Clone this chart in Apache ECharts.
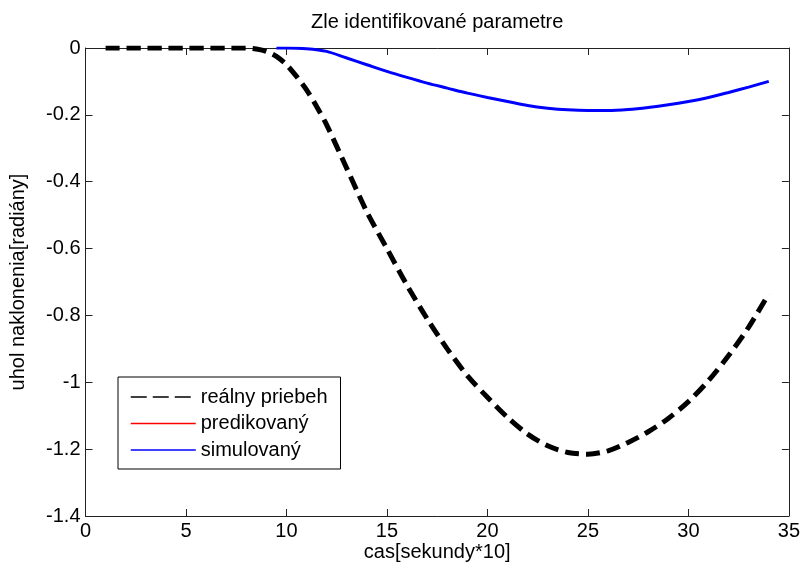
<!DOCTYPE html>
<html>
<head>
<meta charset="utf-8">
<script src="https://cdn.jsdelivr.net/npm/echarts@6/dist/echarts.min.js"></script>
<style>
  html, body { margin: 0; padding: 0; background: #fff; }
  #chart { width: 803px; height: 574px; }
</style>
</head>
<body>
<div id="chart"></div>
<script>
// Measured tilt angle vs. time, with the simulated model response
const titleText = 'Zle identifikované parametre';
const xName = 'cas[sekundy*10]';
const yName = 'uhol naklonenia[radiány]';
const seriesNames = ['reálny priebeh', 'predikovaný', 'simulovaný'];

// real response (reálny priebeh)
const realT = [1, 2, 3, 4, 5, 6, 7, 8, 8.5, 9, 9.5, 10, 10.5, 11, 11.5, 12,
  13, 14, 15, 16, 17, 18, 19, 20, 21, 22, 23, 24, 25, 26, 27, 28, 29, 30, 31, 32, 33, 34];
const realY = [0, 0, 0, 0, 0, 0, 0, 0, -0.003, -0.01, -0.025, -0.05, -0.085, -0.125, -0.175, -0.23,
  -0.36, -0.49, -0.6, -0.71, -0.81, -0.9, -0.98, -1.045, -1.105, -1.155, -1.19, -1.21, -1.215,
  -1.205, -1.18, -1.148, -1.108, -1.058, -0.995, -0.92, -0.835, -0.735];

// predicted response (no samples drawn)
const predT = [];
const predY = [];

// simulated response (simulovaný)
const simT = [9.5, 10, 11, 12, 13, 14, 15, 16, 17, 18, 19, 20, 21, 22, 23, 24, 25, 26, 27,
  28, 29, 30, 31, 32, 33, 34];
const simY = [0, 0, -0.002, -0.01, -0.03, -0.05, -0.07, -0.088, -0.105, -0.12, -0.135, -0.148,
  -0.16, -0.172, -0.18, -0.185, -0.187, -0.187, -0.184, -0.178, -0.17, -0.16, -0.148, -0.133,
  -0.117, -0.1];

const zip = (xs, ys) => xs.map((x, i) => [x, ys[i]]);

const FONT = 'Liberation Sans';
const FS = 20;
const AX = '#222';
const fmtY = v => String(+v.toFixed(1));

const chart = echarts.init(document.getElementById('chart'), null, { renderer: 'canvas' });

const tickStyle = { show: true, inside: true, length: 7, lineStyle: { color: AX, width: 1 } };
const lineStyle = { show: true, onZero: false, lineStyle: { color: AX, width: 1 } };
const noMarker = { opacity: 0 };

chart.setOption({
  animation: false,
  backgroundColor: '#fff',
  textStyle: { fontFamily: FONT },
  grid: { left: 85.5, right: 11.5, top: 48, bottom: 58, containLabel: false },
  legend: {
    orient: 'vertical',
    left: 118,
    top: 377,
    padding: [10, 13, 9, 12],
    itemGap: 6.5,
    itemWidth: 65,
    itemHeight: 14,
    borderColor: '#000',
    borderWidth: 1,
    backgroundColor: '#fff',
    textStyle: { fontFamily: FONT, fontSize: FS, color: '#000' },
    data: [
      { name: seriesNames[0], itemStyle: noMarker, lineStyle: { width: 1.5, type: [16, 6] } },
      { name: seriesNames[1], itemStyle: noMarker, lineStyle: { width: 1.5 } },
      { name: seriesNames[2], itemStyle: noMarker, lineStyle: { width: 1.5 } }
    ]
  },
  xAxis: [
    {
      type: 'value', min: 0, max: 35, interval: 5, position: 'bottom',
      axisLine: lineStyle, axisTick: tickStyle, splitLine: { show: false },
      axisLabel: { color: '#000', fontSize: FS, fontFamily: FONT, margin: 5 },
      name: xName, nameLocation: 'middle', nameGap: 26, nameMoveOverlap: false,
      nameTextStyle: { color: '#000', fontSize: FS, fontFamily: FONT }
    },
    {
      type: 'value', min: 0, max: 35, interval: 5, position: 'top',
      axisLine: lineStyle, axisTick: tickStyle, splitLine: { show: false },
      axisLabel: { show: false },
      name: titleText, nameLocation: 'middle', nameGap: 16,
      nameTextStyle: { color: '#000', fontSize: FS, fontFamily: FONT }
    }
  ],
  yAxis: [
    {
      type: 'value', min: -1.4, max: 0, interval: 0.2, position: 'left',
      axisLine: lineStyle, axisTick: tickStyle, splitLine: { show: false },
      axisLabel: { color: '#000', fontSize: FS, fontFamily: FONT, margin: 5, formatter: fmtY },
      name: yName, nameLocation: 'middle', nameGap: 57, nameRotate: 90,
      nameTextStyle: { color: '#000', fontSize: FS, fontFamily: FONT }
    },
    {
      type: 'value', min: -1.4, max: 0, interval: 0.2, position: 'right',
      axisLine: lineStyle, axisTick: tickStyle, splitLine: { show: false },
      axisLabel: { show: false }
    }
  ],
  series: [
    {
      name: seriesNames[0], type: 'line', data: zip(realT, realY),
      showSymbol: false, symbol: 'none', smooth: 0.3, z: 3,
      itemStyle: { color: '#000' },
      lineStyle: { color: '#000', width: 5, type: [14, 7] }
    },
    {
      name: seriesNames[1], type: 'line', data: zip(predT, predY),
      showSymbol: false, symbol: 'none', z: 2,
      itemStyle: { color: '#ff0000' },
      lineStyle: { color: '#ff0000', width: 1.5 }
    },
    {
      name: seriesNames[2], type: 'line', data: zip(simT, simY),
      showSymbol: false, symbol: 'none', smooth: 0.3, z: 2,
      itemStyle: { color: '#0000ff' },
      lineStyle: { color: '#0000ff', width: 3 }
    }
  ]
});
</script>
</body>
</html>
